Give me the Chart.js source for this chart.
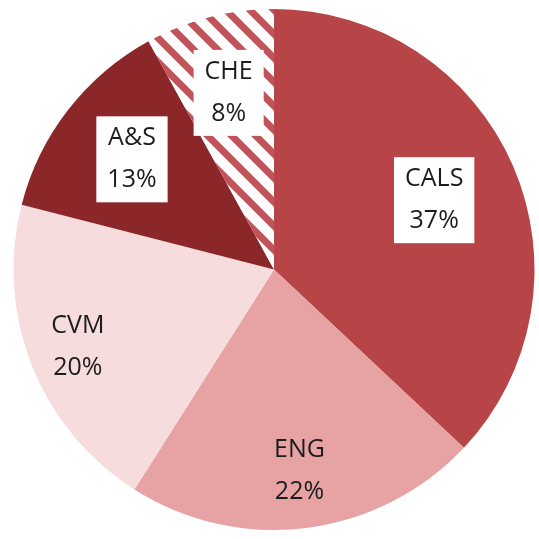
<!DOCTYPE html>
<html>
<head>
<meta charset="utf-8">
<script src="https://cdn.jsdelivr.net/npm/chart.js@4/dist/chart.umd.min.js"></script>
<style>
  html, body { margin: 0; padding: 0; background: #fff; }
  #wrap { width: 539px; height: 539px; }
</style>
</head>
<body>
<div id="wrap"><canvas id="pieChart"></canvas></div>
<script>
// data
const labels = ['CALS', 'ENG', 'CVM', 'A&S', 'CHE'];
const shares = [37, 22, 20, 13, 8];

// white box behind some labels, like in the original
const boxed = [true, false, false, true, true];
// how far out (fraction of radius) each label sits
const labelRadius = [0.67, 0.78, 0.81, 0.69, 0.70];

function stripePattern() {
    const size = 24;
    const c = document.createElement('canvas');
    c.width = size; c.height = size;
    const g = c.getContext('2d');
    g.fillStyle = '#ffffff';
    g.fillRect(0, 0, size, size);
    g.strokeStyle = '#c0545a';
    g.lineWidth = 7;
    g.beginPath();
    // "\" direction stripes, overshooting the tile so they join up
    for (let k = -1; k <= 1; k++) {
        g.moveTo(k * size - 6, -6);
        g.lineTo(k * size + size + 6, size + 6);
    }
    g.stroke();
    return g.createPattern(c, 'repeat');
}

const sliceLabels = {
    id: 'sliceLabels',
    afterDatasetsDraw(chart) {
        const ctx = chart.ctx;
        const meta = chart.getDatasetMeta(0);
        ctx.save();
        ctx.font = '25px "Open Sans", sans-serif';
        ctx.textAlign = 'center';
        ctx.textBaseline = 'middle';
        meta.data.forEach((arc, i) => {
            const p = arc.getProps(['x', 'y', 'startAngle', 'endAngle', 'outerRadius'], true);
            const mid = (p.startAngle + p.endAngle) / 2;
            const r = p.outerRadius * labelRadius[i];
            const x = p.x + Math.cos(mid) * r;
            const y = p.y + Math.sin(mid) * r;
            const line1 = labels[i];
            const line2 = shares[i] + '%';
            const gap = 42;
            if (boxed[i]) {
                const w = Math.max(ctx.measureText(line1).width, ctx.measureText(line2).width) + 22;
                const h = 86;
                ctx.fillStyle = '#ffffff';
                ctx.fillRect(x - w / 2, y - h / 2, w, h);
            }
            ctx.fillStyle = '#1c1c1c';
            ctx.fillText(line1, x, y - gap / 2);
            ctx.fillText(line2, x, y + gap / 2);
        });
        ctx.restore();
    }
};

document.addEventListener('DOMContentLoaded', function () {
    const ctx = document.getElementById('pieChart').getContext('2d');
    new Chart(ctx, {
        type: 'pie',
        data: {
            labels: labels,
            datasets: [{
                data: shares,
                backgroundColor: ['#b74547', '#e7a3a4', '#f6dcdc', '#8b2729', stripePattern()],
                borderWidth: 0
            }]
        },
        options: {
            responsive: true,
            maintainAspectRatio: false,
            animation: false,
            layout: { padding: { left: 13, right: 4, top: 9, bottom: 9 } },
            plugins: {
                legend: { display: false },
                tooltip: { enabled: false }
            }
        },
        plugins: [sliceLabels]
    });
});
</script>
</body>
</html>
